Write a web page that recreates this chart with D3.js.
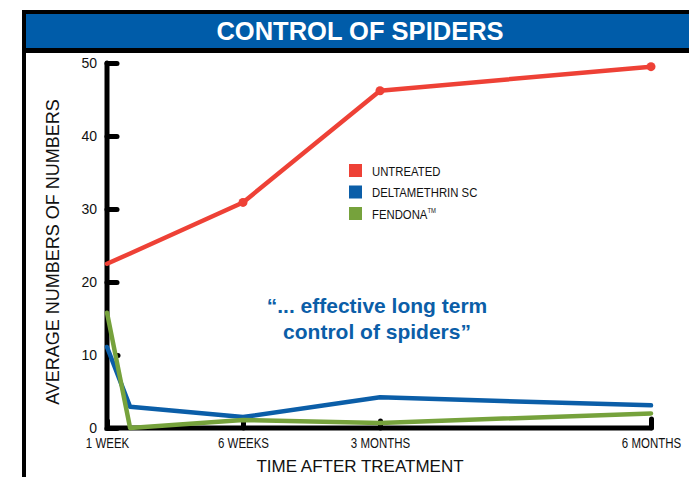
<!DOCTYPE html>
<html lang="en">
<head>
<meta charset="UTF-8">
<title>Control of Spiders</title>
<script src="https://cdn.jsdelivr.net/npm/d3@7"></script>
<style>
    body { margin: 0; background: #fff; }
    svg { display: block; }
    .narrow { font-family: "Liberation Sans Narrow", "Arial Narrow", sans-serif; }
    .tick text { font-family: "Liberation Sans Narrow", "Arial Narrow", sans-serif; font-size: 14px; fill: #111; }
    .series { fill: none; stroke-width: 4.5px; stroke-linejoin: round; stroke-linecap: round; }
</style>
</head>
<body>
<script>
    // ---- data ----
    const tickLabels = ["1 WEEK", "6 WEEKS", "3 MONTHS", "6 MONTHS"];
    const tickWeeks = [1, 6, 13, 26];
    const pointWeeks = [1, 1.85, 6, 13, 26];
    const untreated = [22.5, 23.9, 30.9, 46.2, 49.5];
    const deltamethrin = [11.1, 2.9, 1.5, 4.2, 3.1];
    const fendona = [15.8, 0, 1.1, 0.7, 2.0];
    const yTicks = [0, 10, 20, 30, 40, 50];
    const seriesNames = ["UNTREATED", "DELTAMETHRIN SC", "FENDONA"];
    const seriesColors = ["#ee4136", "#0b5ea8", "#76a23c"];

    const width = 689, height = 477;
    const margins = {top: 63, bottom: 49, left: 107, right: 38};

    const svg = d3.select("body").append("svg")
        .attr("width", width).attr("height", height);

    // frame + header band
    svg.append("rect").attr("x", 24).attr("y", 12).attr("width", width).attr("height", height + 10)
        .attr("fill", "none").attr("stroke", "#000").attr("stroke-width", 4);
    svg.append("rect").attr("x", 26).attr("y", 14).attr("width", width).attr("height", 34)
        .attr("fill", "#005ca9");
    svg.append("rect").attr("x", 26).attr("y", 48).attr("width", width).attr("height", 5)
        .attr("fill", "#000");
    svg.append("text").attr("x", 360).attr("y", 40)
        .attr("text-anchor", "middle").attr("fill", "#fff")
        .attr("font-family", "'Liberation Sans Narrow', 'Arial Narrow', sans-serif")
        .attr("font-weight", "bold").attr("font-size", 25.5)
        .text("CONTROL OF SPIDERS");

    // scales (x is piecewise in weeks, matching the uneven tick spacing)
    const xScale = d3.scaleLinear()
        .domain(tickWeeks)
        .range([margins.left, 243, 380, width - margins.right]);
    const yScale = d3.scaleLinear()
        .domain([0, 50])
        .range([height - margins.bottom, margins.top]);

    // axes
    const yAxis = d3.axisRight(yScale).tickValues(yTicks).tickSize(10).tickFormat(d => d);
    const yg = svg.append("g").attr("transform", `translate(${margins.left},0)`).call(yAxis);
    yg.select(".domain").remove();
    yg.selectAll(".tick line").attr("stroke", "#000").attr("stroke-width", 5).attr("stroke-linecap", "round")
        .attr("x2", d => d === 10 ? 11 : 10).attr("x1", d => d === 10 ? 10 : 0);
    yg.selectAll(".tick text").attr("x", -10).attr("text-anchor", "end").attr("dy", "0.35em");

    const xAxis = d3.axisTop(xScale).tickValues(tickWeeks).tickSize(8)
        .tickFormat((d, i) => tickLabels[i]);
    const xg = svg.append("g").attr("transform", `translate(0,${height - margins.bottom})`).call(xAxis);
    xg.select(".domain").remove();
    xg.selectAll(".tick line").attr("stroke", "#000").attr("stroke-width", 5).attr("stroke-linecap", "round")
        .attr("y2", (d, i) => i === 3 ? -9 : -7);
    xg.selectAll(".tick text").attr("y", 10).attr("dy", "0.71em").attr("font-size", 13.5)
        .attr("transform", "scale(0.82,1)");

    // axis lines
    svg.append("path")
        .attr("d", d3.line()([[xScale(1), yScale(50)], [xScale(1), yScale(0)], [xScale(26), yScale(0)]]))
        .attr("fill", "none").attr("stroke", "#000").attr("stroke-width", 5)
        .attr("stroke-linecap", "round").attr("stroke-linejoin", "miter");

    // series lines
    const line = d3.line().x((d, i) => xScale(pointWeeks[i])).y(d => yScale(d));
    [untreated, deltamethrin, fendona].forEach((vals, k) => {
        svg.append("path").attr("class", "series")
            .attr("d", line(vals))
            .attr("stroke", seriesColors[k]);
    });

    // markers on untreated line
    svg.append("g").selectAll("circle")
        .data(untreated.slice(2))
        .enter().append("circle")
        .attr("cx", (d, i) => xScale(pointWeeks[i + 2]))
        .attr("cy", d => yScale(d))
        .attr("r", 4.5)
        .attr("fill", seriesColors[0]);

    // legend
    const legend = svg.append("g").selectAll("g")
        .data(seriesNames).enter().append("g")
        .attr("transform", (d, i) => `translate(349,${164 + i * 21.5})`);
    legend.append("rect").attr("width", 13).attr("height", 13)
        .attr("fill", (d, i) => seriesColors[i]);
    const lt = legend.append("text").attr("class", "narrow")
        .attr("transform", "translate(23,11.5) scale(0.84,1)")
        .attr("font-size", 13.5).attr("fill", "#111")
        .text(d => d);
    lt.filter((d, i) => i === 2).append("tspan")
        .attr("font-size", 7).attr("dy", -5.5).text("TM");

    // annotation
    const note = svg.append("text").attr("text-anchor", "middle")
        .attr("font-family", "'Liberation Sans', Arial, sans-serif")
        .attr("font-weight", "bold").attr("font-size", 21).attr("fill", "#0b5ea8");
    note.append("tspan").attr("x", 377).attr("y", 313).text("\u201c... effective long term");
    note.append("tspan").attr("x", 377).attr("y", 339).text("control of spiders\u201d");

    // axis titles
    svg.append("text").attr("class", "narrow")
        .attr("transform", `translate(59,${252}) rotate(-90)`)
        .attr("text-anchor", "middle").attr("font-size", 18).attr("fill", "#111")
        .text("AVERAGE NUMBERS OF NUMBERS");
    svg.append("text").attr("class", "narrow")
        .attr("x", 360).attr("y", 472)
        .attr("text-anchor", "middle").attr("font-size", 17).attr("fill", "#111")
        .text("TIME AFTER TREATMENT");
</script>
</body>
</html>
